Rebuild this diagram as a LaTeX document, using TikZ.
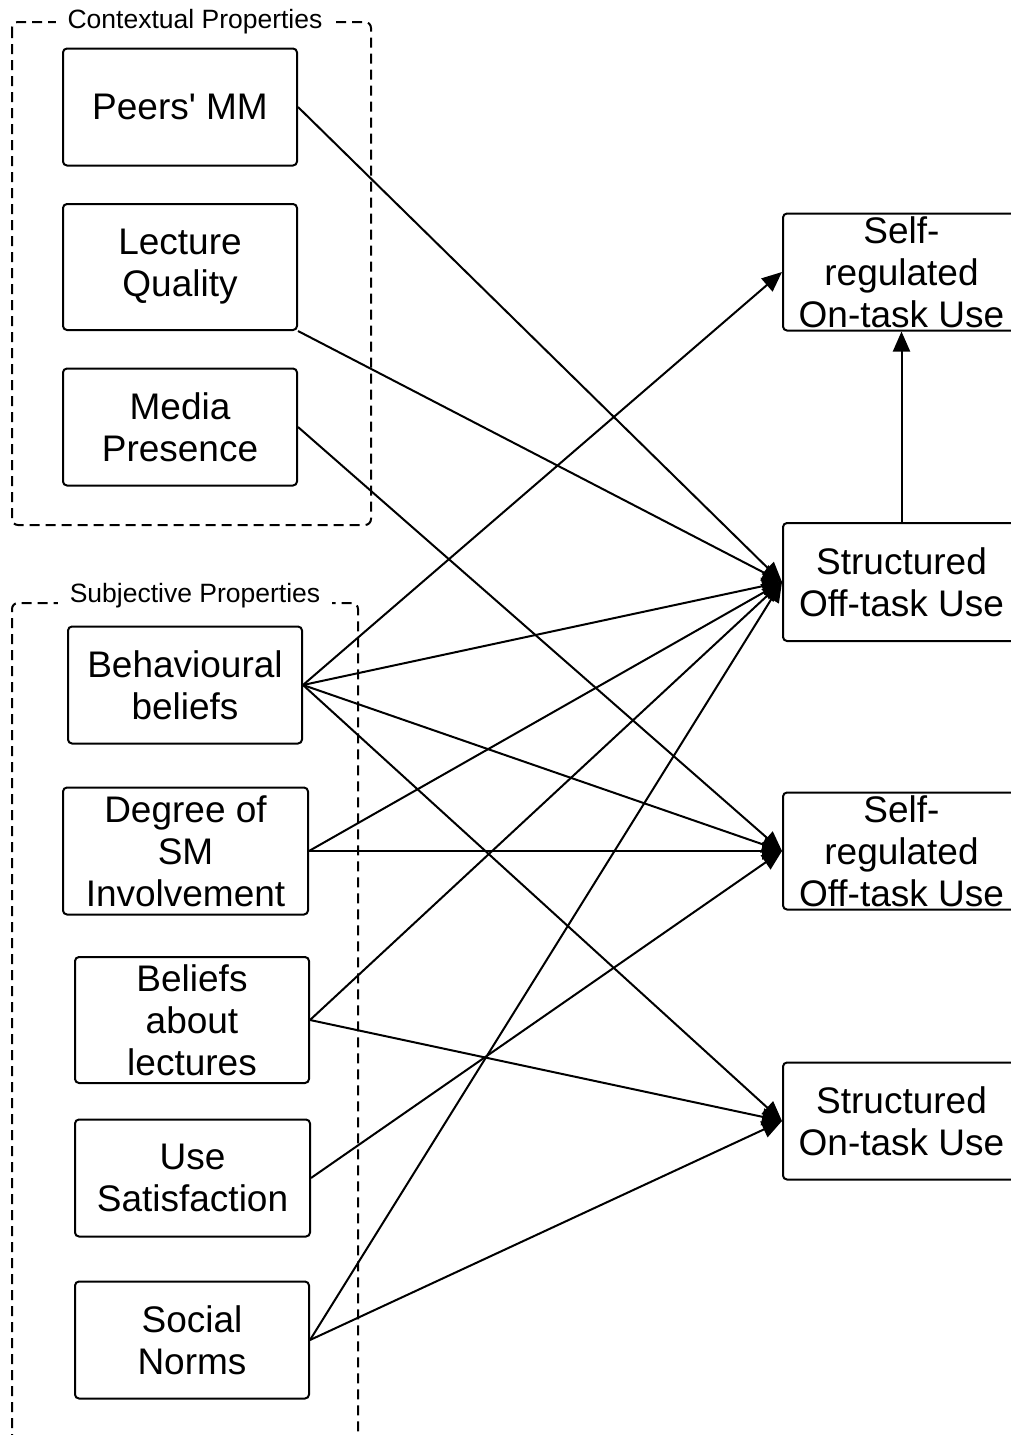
\documentclass[tikz,border=0pt]{standalone}
\usepackage{fontspec}
\setmainfont{Liberation Sans}
\usetikzlibrary{arrows.meta}
\begin{document}
\begin{tikzpicture}[x=1pt,y=-1pt,
  box/.style={draw,line width=2pt,rounded corners=4pt,align=center,inner sep=0pt,
    font=\fontsize{37}{42}\selectfont},
  grp/.style={draw,line width=2pt,dash pattern=on 10pt off 6pt,rounded corners=6pt},
  grplabel/.style={fill=white,inner xsep=12pt,inner ysep=2pt,font=\fontsize{26.5}{30}\selectfont},
  arr/.style={line width=2pt,-{Triangle[length=20pt,width=17pt]}}]
\useasboundingbox (0,0) rectangle (1011,1435);
\clip (0,0) rectangle (1011,1435);
% groups
\draw[grp] (12,22) rectangle (371,525);
\node[grplabel] (gc) at (195,22) {Contextual Properties};
\draw[grp] (12,1460) -- (12,603) -- (358,603) -- (358,1460);
\node[grplabel] (gs) at (195,596) {Subjective Properties};
% left boxes
\node[box,minimum width=234pt,minimum height=117pt] (pm) at (180,107) {Peers\textquotesingle{} MM};
\node[box,minimum width=234pt,minimum height=126pt] (lq) at (180,267) {Lecture\\Quality};
\node[box,minimum width=234pt,minimum height=117pt] (mp) at (180,427) {Media\\Presence};
\node[box,minimum width=234pt,minimum height=117pt] (bb) at (185,685) {Behavioural\\beliefs};
\node[box,minimum width=245pt,minimum height=127pt] (dsm) at (185.5,851) {Degree of\\SM\\Involvement};
\node[box,minimum width=234pt,minimum height=126pt] (bal) at (192,1020) {Beliefs\\about\\lectures};
\node[box,minimum width=235pt,minimum height=117pt] (us) at (192.5,1178) {Use\\Satisfaction};
\node[box,minimum width=234pt,minimum height=117pt] (sn) at (192,1340) {Social\\Norms};
% right boxes
\node[box,minimum width=237pt,minimum height=117pt] (sron) at (901.5,272) {Self-\\regulated\\On-task Use};
\node[box,minimum width=237pt,minimum height=118pt] (soff) at (901.5,582) {Structured\\Off-task Use};
\node[box,minimum width=237pt,minimum height=117pt] (sroff) at (901.5,851) {Self-\\regulated\\Off-task Use};
\node[box,minimum width=237pt,minimum height=117pt] (son) at (901.5,1121) {Structured\\On-task Use};
% connectors
\draw[arr] (pm.east) -- (soff.west);
\draw[arr] (lq.south east) -- (soff.west);
\draw[arr] (mp.east) -- (sroff.west);
\draw[arr] (bb.east) -- (sron.west);
\draw[arr] (bb.east) -- (soff.west);
\draw[arr] (bb.east) -- (sroff.west);
\draw[arr] (bb.east) -- (son.west);
\draw[arr] (dsm.east) -- (soff.west);
\draw[arr] (dsm.east) -- (sroff.west);
\draw[arr] (bal.east) -- (soff.west);
\draw[arr] (bal.east) -- (son.west);
\draw[arr] (us.east) -- (sroff.west);
\draw[arr] (sn.east) -- (soff.west);
\draw[arr] (sn.east) -- (son.west);
\draw[arr] (soff.north) -- (sron.south);
\end{tikzpicture}
\end{document}
